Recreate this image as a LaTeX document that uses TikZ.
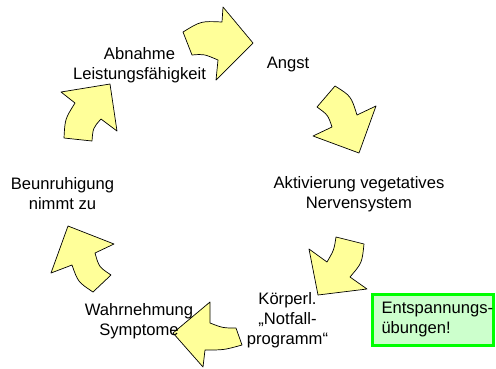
\documentclass[tikz,border=0pt]{standalone}
\usepackage{fontspec}
\setmainfont{Liberation Sans}
\usepackage{tikz}
\usetikzlibrary{positioning}
\definecolor{arrowyellow}{HTML}{FFFF99}
\definecolor{boxgreen}{HTML}{00FF00}
\definecolor{boxfill}{HTML}{CCFFCC}

\begin{document}
\begin{tikzpicture}[x=1pt, y=-1pt, semithick,
    cyc/.style={draw=black, fill=arrowyellow, line width=0.7pt, line join=round},
    txt/.style={inner sep=0pt, font=\fontsize{16.6}{20}\selectfont}]
  \useasboundingbox (0,0) rectangle (496,368);
  % arrows of the cycle
  \path[cyc] (183,32) .. controls (201,21) .. (222,22) -- (223,7) -- (253,43) -- (216,80) -- (218,60) .. controls (204,54) .. (192,55) -- cycle;
  \path[cyc] (335,86) .. controls (351,96) .. (357,115) -- (376,106) -- (359,153) -- (313,136) -- (332,127) .. controls (328,115) .. (317,107) -- cycle;
  \path[cyc] (327,262) .. controls (334,250) .. (336,237) -- (364,244) .. controls (362,263) .. (350,277) -- (367,289) -- (318,295) -- (309,249) -- cycle;
  \path[cyc] (210,302) -- (210,323) .. controls (223,328) .. (236,328) -- (242,345) .. controls (224,350) .. (205,350) -- (203,367) -- (173,333) -- cycle;
  \path[cyc] (68,226) -- (114,244) -- (95,253) .. controls (99,267) .. (111,275) -- (93,292) .. controls (78,282) .. (72,265) -- (51,273) -- cycle;
  \path[cyc] (110,84) -- (117,131) -- (101,119) .. controls (93,128) .. (92,141) -- (64,138) .. controls (65,119) .. (75,103) -- (61,92) -- cycle;
  % labels
  \node[txt] (abnahme) at (139.5,65) {\begin{tabular}{c} Abnahme \\ Leistungsfähigkeit \end{tabular}};
  \node[txt] (angst) at (288,64) {\begin{tabular}{c} Angst \end{tabular}};
  \node[txt] (aktiv) at (359,194) {\begin{tabular}{c} Aktivierung vegetatives \\ Nervensystem \end{tabular}};
  \node[txt] (unruhe) at (62.5,195) {\begin{tabular}{c} Beunruhigung \\ nimmt zu \end{tabular}};
  \node[txt] (notfall) at (287.5,320.5) {\begin{tabular}{c} Körperl. \\ „Notfall- \\ programm“ \end{tabular}};
  \node[txt] (symptome) at (139,321) {\begin{tabular}{c} Wahrnehmung \\ Symptome \end{tabular}};
  \node[txt, draw=boxgreen, fill=boxfill, line width=3pt, anchor=west,
        minimum width=120pt, minimum height=51pt] (entspannung) at (371,319.5)
        {\begin{tabular}{@{\hspace{9pt}}l@{}} Entspannungs- \\ übungen! \end{tabular}};
\end{tikzpicture}
\end{document}
